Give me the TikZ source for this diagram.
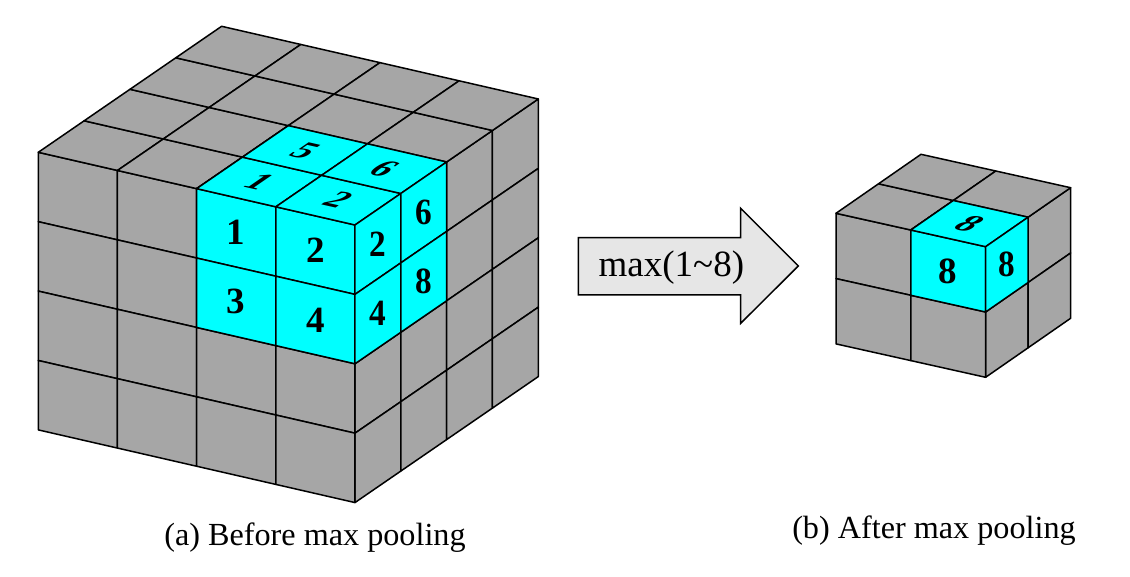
\documentclass[tikz,border=0pt]{standalone}
\usepackage{fontspec}
\setmainfont{Liberation Serif}
\definecolor{cubegray}{RGB}{166,166,166}
\definecolor{cubecyan}{RGB}{0,255,255}
\definecolor{arrowfill}{RGB}{230,230,230}
\tikzset{
  edge/.style={draw=black, line width=0.75pt, line join=round},
  graycell/.style={edge, fill=cubegray},
  cyancell/.style={edge, fill=cubecyan},
  fnum/.style={font=\fontsize{18.5}{18.5}\selectfont\bfseries, inner sep=0pt},
  rnum/.style={fnum, xscale=0.9},
  tnum/.style={fnum, cm={0.93,-0.21,0.80,0.55,(0,0)}},
  caption/.style={font=\fontsize{16.1}{18}\selectfont, inner sep=0pt, anchor=base},
}
\begin{document}
\begin{tikzpicture}[x=0.5pt,y=-0.5pt]
\useasboundingbox (0,0) rectangle (1130,577);
% ---------- big cube (4x4x4) ----------
\begin{scope}[shift={(38.3,152.3)}, x={(39.585pt,-9.085pt)}, y={(0pt,-34.7pt)}, z={(22.915pt,15.75pt)}]
  \foreach \i in {0,...,3}{\foreach \j in {0,...,3}{
    \path[graycell] (\i,\j,0) -- ++(1,0,0) -- ++(0,1,0) -- ++(-1,0,0) -- cycle;
    \path[graycell] (\i,0,\j) -- ++(1,0,0) -- ++(0,0,1) -- ++(-1,0,0) -- cycle;
    \path[graycell] (4,\i,\j) -- ++(0,0,1) -- ++(0,1,0) -- ++(0,0,-1) -- cycle;
  }}
  \foreach \i in {2,3}{\foreach \j in {0,1}{
    \path[cyancell] (\i,\j,0) -- ++(1,0,0) -- ++(0,1,0) -- ++(-1,0,0) -- cycle;
    \path[cyancell] (\i,0,\j) -- ++(1,0,0) -- ++(0,0,1) -- ++(-1,0,0) -- cycle;
  }}
  \foreach \j in {0,1}{\foreach \k in {0,1}{
    \path[cyancell] (4,\j,\k) -- ++(0,0,1) -- ++(0,1,0) -- ++(0,0,-1) -- cycle;
  }}
  % front labels
  \node[fnum] (bf1) at (2.5,0.5,0) {1};
  \node[fnum] (bf2) at (3.5,0.5,0) {2};
  \node[fnum] (bf3) at (2.5,1.5,0) {3};
  \node[fnum] (bf4) at (3.5,1.5,0) {4};
  % top labels
  \node[tnum] (bt1) at (2.5,0,0.5) {1};
  \node[tnum] (bt2) at (3.5,0,0.5) {2};
  \node[tnum] (bt5) at (2.5,0,1.5) {5};
  \node[tnum] (bt6) at (3.5,0,1.5) {6};
  % right labels
  \node[rnum] (br2) at (4,0.5,0.5) {2};
  \node[rnum] (br4) at (4,1.5,0.5) {4};
  \node[rnum] (br6) at (4,0.5,1.5) {6};
  \node[rnum] (br8) at (4,1.5,1.5) {8};
\end{scope}
% ---------- small cube (2x2x2) ----------
\begin{scope}[shift={(836,213.3)}, x={(37.4pt,-8.35pt)}, y={(0pt,-32.65pt)}, z={(21.25pt,14.75pt)}]
  \foreach \i in {0,1}{\foreach \j in {0,1}{
    \path[graycell] (\i,\j,0) -- ++(1,0,0) -- ++(0,1,0) -- ++(-1,0,0) -- cycle;
    \path[graycell] (\i,0,\j) -- ++(1,0,0) -- ++(0,0,1) -- ++(-1,0,0) -- cycle;
    \path[graycell] (2,\i,\j) -- ++(0,0,1) -- ++(0,1,0) -- ++(0,0,-1) -- cycle;
  }}
  \path[cyancell] (1,0,0) -- ++(1,0,0) -- ++(0,1,0) -- ++(-1,0,0) -- cycle;
  \path[cyancell] (1,0,0) -- ++(1,0,0) -- ++(0,0,1) -- ++(-1,0,0) -- cycle;
  \path[cyancell] (2,0,0) -- ++(0,0,1) -- ++(0,1,0) -- ++(0,0,-1) -- cycle;
  \node[fnum] (sf8) at (1.5,0.5,0) {8};
  \node[tnum] (st8) at (1.5,0,0.5) {8};
  \node[rnum] (sr8) at (2,0.5,0.5) {8};
\end{scope}
% ---------- arrow ----------
\path[draw=black, line width=0.75pt, line join=miter, fill=arrowfill]
  (578.3,237.7) -- (740.7,237.7) -- (740.7,208.3) -- (798.3,266)
  -- (740.7,323.3) -- (740.7,295) -- (578.3,295) -- cycle;
\node[font=\fontsize{18.5}{20}\selectfont, inner sep=0pt, anchor=base west] (mx) at (598.3,276.7) {max(1\textasciitilde 8)};
% ---------- captions ----------
\node[caption] (capa) at (315,545) {(a) Before max pooling};
\node[caption] (capb) at (934,538.3) {(b) After max pooling};
\end{tikzpicture}
\end{document}
